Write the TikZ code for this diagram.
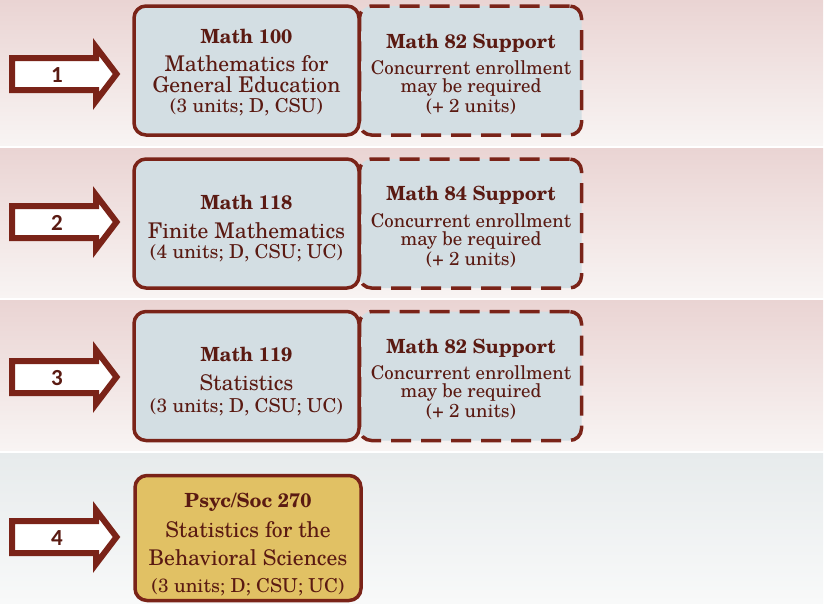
\documentclass[tikz,border=0pt]{standalone}
\usepackage{fontspec}
\setmainfont{TeX Gyre Schola}
\newfontfamily\numfont{Carlito}
\definecolor{maroon}{HTML}{7A2318}
\definecolor{txt}{HTML}{5A1A12}
\definecolor{boxfill}{HTML}{D3DEE3}
\definecolor{gold}{HTML}{E1C164}
\definecolor{pinktop}{HTML}{EAD4D3}
\definecolor{pinkbot}{HTML}{F8F4F3}
\definecolor{graytop}{HTML}{E7EBEC}
\definecolor{graybot}{HTML}{F8F9F9}
\tikzset{
  pinkband/.style={top color=pinktop, bottom color=pinkbot, draw=none},
  grayband/.style={top color=graytop, bottom color=graybot, draw=none},
  coursebox/.style={draw=maroon, line width=3.5pt, rounded corners=12pt, fill=boxfill},
  supportbox/.style={coursebox, dash pattern=on 20pt off 10pt},
  goldbox/.style={coursebox, fill=gold},
  bigarrow/.style={draw=maroon, line width=6pt, fill=white, miter limit=10},
  num/.style={text=txt, font=\numfont\bfseries\fontsize{23}{23}\selectfont, inner sep=0pt, anchor=base},
  ttl/.style={text=txt, font=\bfseries\fontsize{19.5}{22}\selectfont, inner sep=0pt, anchor=base},
  body/.style={text=txt, font=\fontsize{21.6}{24}\selectfont, inner sep=0pt, anchor=base},
  small/.style={text=txt, font=\fontsize{19.2}{22}\selectfont, inner sep=0pt, anchor=base},
  supp/.style={text=txt, font=\fontsize{18.8}{22}\selectfont, inner sep=0pt, anchor=base},
}
\newcommand\rowarrow[3]{%
  \draw[bigarrow] (12,#2-16) -- (96,#2-16) -- (96,#2-27) -- (116.5,#2) -- (96,#2+27) -- (96,#2+16) -- (12,#2+16) -- cycle;
  \node[num] (#1) at (57,#2+8) {#3};}
\begin{document}
\begin{tikzpicture}[x=1pt,y=-1pt]
\useasboundingbox (0,0) rectangle (824,603);
% background bands
\shade[pinkband] (0,0) rectangle (823,145);
\shade[pinkband] (0,148) rectangle (823,297);
\shade[pinkband] (0,300) rectangle (823,450);
\shade[grayband] (0,453) rectangle (823,603);
% arrows
\rowarrow{n1}{74}{1}
\rowarrow{n2}{222}{2}
\rowarrow{n3}{377}{3}
\rowarrow{n4}{537}{4}
% row 1
\node[supportbox, minimum width=222pt, minimum height=129pt, inner sep=0pt] (s1) at (470.5,70.5) {};
\node[coursebox, minimum width=225pt, minimum height=129pt, inner sep=0pt] (c1) at (246.5,70.5) {};
\node[ttl] (c1a) at (246.5,43) {Math 100};
\node[body] (c1b) at (246.5,71) {Mathematics for};
\node[body] (c1c) at (246.5,92) {General Education};
\node[small] (c1d) at (246.5,112) {(3 units; D, CSU)};
\node[ttl] (s1a) at (471,48) {Math 82 Support};
\node[supp] (s1b) at (471,74) {Concurrent enrollment};
\node[supp] (s1c) at (471,92) {may be required};
\node[supp] (s1d) at (471,112) {(+ 2 units)};
% row 2
\node[supportbox, minimum width=222pt, minimum height=129pt, inner sep=0pt] (s2) at (470.5,223.5) {};
\node[coursebox, minimum width=225pt, minimum height=129pt, inner sep=0pt] (c2) at (246.5,223.5) {};
\node[ttl] (c2a) at (246.5,209) {Math 118};
\node[body] (c2b) at (246.5,238) {Finite Mathematics};
\node[small] (c2c) at (246.5,258) {(4 units; D, CSU; UC)};
\node[ttl] (s2a) at (471,200) {Math 84 Support};
\node[supp] (s2b) at (471,227) {Concurrent enrollment};
\node[supp] (s2c) at (471,245) {may be required};
\node[supp] (s2d) at (471,265) {(+ 2 units)};
% row 3
\node[supportbox, minimum width=222pt, minimum height=129pt, inner sep=0pt] (s3) at (470.5,376) {};
\node[coursebox, minimum width=225pt, minimum height=129pt, inner sep=0pt] (c3) at (246.5,376) {};
\node[ttl] (c3a) at (246.5,361) {Math 119};
\node[body] (c3b) at (246.5,390) {Statistics};
\node[small] (c3c) at (246.5,412) {(3 units; D, CSU; UC)};
\node[ttl] (s3a) at (471,353) {Math 82 Support};
\node[supp] (s3b) at (471,379) {Concurrent enrollment};
\node[supp] (s3c) at (471,397) {may be required};
\node[supp] (s3d) at (471,417) {(+ 2 units)};
% row 4
\node[goldbox, minimum width=226pt, minimum height=125pt, inner sep=0pt] (c4) at (248,538) {};
\node[ttl] (c4a) at (248,507) {Psyc/Soc 270};
\node[body] (c4b) at (248,537) {Statistics for the};
\node[body] (c4c) at (248,565) {Behavioral Sciences};
\node[small] (c4d) at (248,592) {(3 units; D; CSU; UC)};
\end{tikzpicture}
\end{document}
